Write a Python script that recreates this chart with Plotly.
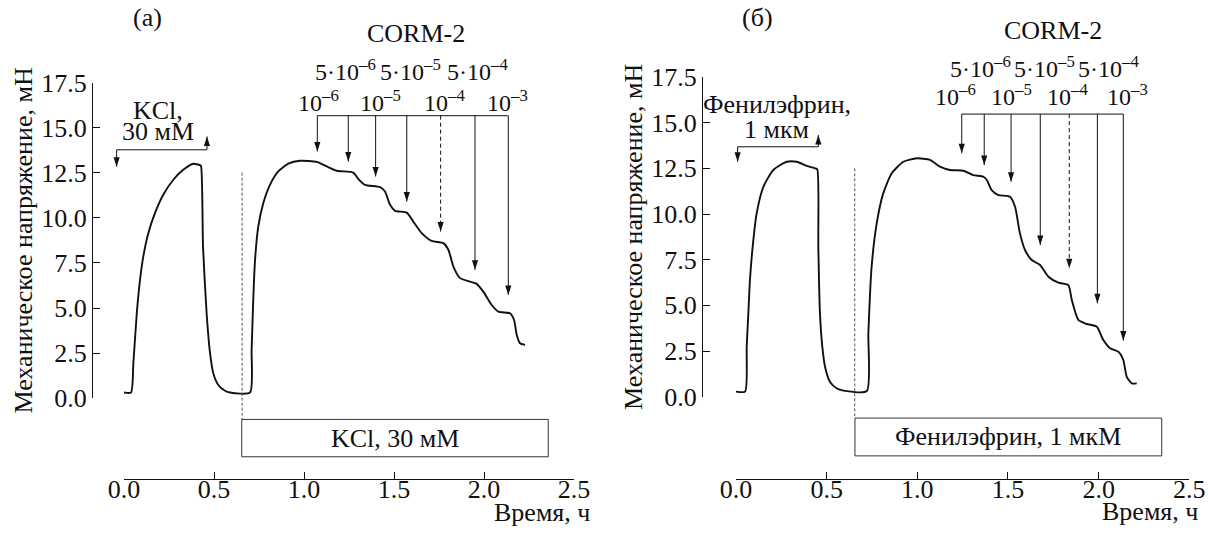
import plotly.graph_objects as go

W, H = 1208, 541
FONT = "Liberation Serif, Times New Roman, Times, serif"
BLACK = "#111111"

# ---------------- data ----------------
# panel (а): contraction to KCl 30 mM, then CORM-2 cumulative additions
t_kcl = [0.000, 0.039, 0.052, 0.071, 0.089, 0.107, 0.135, 0.172, 0.218, 0.274, 0.329, 0.385,
         0.422, 0.428, 0.439, 0.459, 0.478, 0.496, 0.524, 0.561, 0.589, 0.700, 0.709, 0.718,
         0.728, 0.746, 0.774, 0.811, 0.857, 0.913, 0.978, 1.071, 1.126, 1.182, 1.274, 1.302,
         1.339, 1.422, 1.450, 1.478, 1.506, 1.571, 1.607, 1.654, 1.709, 1.774, 1.802, 1.830,
         1.867, 1.922, 1.959, 1.996, 2.043, 2.080, 2.144, 2.167, 2.182, 2.200, 2.228]
f_kcl = [0.32, 0.32, 1.94, 4.71, 6.56, 7.85, 9.15, 10.26, 11.28, 12.11, 12.66, 13.00,
         12.92, 12.87, 8.41, 4.71, 2.50, 1.39, 0.74, 0.42, 0.32, 0.32, 2.68, 5.45,
         7.67, 9.52, 10.82, 11.83, 12.57, 13.00, 13.16, 13.10, 12.85, 12.61, 12.51, 12.15,
         11.83, 11.70, 11.46, 10.72, 10.39, 10.29, 9.79, 9.15, 8.72, 8.60, 8.23, 7.30,
         6.66, 6.47, 6.34, 5.91, 5.17, 4.80, 4.71, 4.34, 3.51, 3.05, 2.96]

# panel (б): contraction to phenylephrine 1 µM, then CORM-2 cumulative additions
t_phe = [0.000, 0.050, 0.059, 0.068, 0.077, 0.092, 0.114, 0.151, 0.206, 0.280, 0.335, 0.390,
         0.436, 0.448, 0.454, 0.463, 0.476, 0.491, 0.518, 0.555, 0.592, 0.721, 0.730, 0.748,
         0.776, 0.812, 0.859, 0.923, 0.997, 1.070, 1.125, 1.180, 1.254, 1.309, 1.364, 1.383,
         1.410, 1.447, 1.511, 1.539, 1.566, 1.594, 1.631, 1.677, 1.723, 1.778, 1.833, 1.852,
         1.888, 1.934, 1.990, 2.026, 2.063, 2.109, 2.136, 2.155, 2.183, 2.210]
f_phe = [0.28, 0.28, 2.74, 4.56, 6.39, 8.21, 10.04, 11.49, 12.41, 12.86, 12.86, 12.63,
         12.50, 12.45, 8.21, 4.56, 2.74, 1.64, 0.82, 0.46, 0.33, 0.31, 3.47, 7.12,
         9.49, 11.13, 12.23, 12.86, 13.05, 12.96, 12.59, 12.41, 12.37, 12.13, 12.04, 11.86,
         11.31, 11.04, 10.95, 10.40, 8.94, 8.03, 7.48, 7.21, 6.57, 6.24, 6.11, 5.29,
         4.20, 3.98, 3.83, 3.10, 2.65, 2.46, 2.01, 1.09, 0.73, 0.73]

x_ticks = [0.0, 0.5, 1.0, 1.5, 2.0, 2.5]
y_ticks = [0.0, 2.5, 5.0, 7.5, 10.0, 12.5, 15.0, 17.5]

corm_low_labels = ["10<sup>\u20136</sup>", "10<sup>\u20135</sup>", "10<sup>\u20134</sup>", "10<sup>\u20133</sup>"]
corm_high_labels = ["5\u00b710<sup>\u20136</sup>", "5\u00b710<sup>\u20135</sup>", "5\u00b710<sup>\u20134</sup>"]

# CORM-2 addition times (h) and the force level each arrow points to (mN)
corm_t_a = [1.074, 1.246, 1.398, 1.571, 1.759, 1.950, 2.135]
corm_tip_a = [13.68, 13.12, 12.29, 10.90, 9.24, 7.12, 5.73]
corm_t_b = [1.245, 1.369, 1.517, 1.678, 1.838, 1.993, 2.136]
corm_tip_b = [13.32, 12.68, 11.77, 8.30, 7.03, 5.11, 3.07]
dashed_index = 4

# agonist application / washout marks
agonist_a = dict(t_on=-0.041, t_off=0.461, level=13.77, tip_on=12.83, tip_off=14.51)
agonist_b = dict(t_on=0.009, t_off=0.454, level=13.68, tip_on=12.86, tip_off=14.32)
second_on_a, second_on_b = 0.656, 0.655
bar_a = dict(t0=0.654, t1=2.357, text="KCl, 30 \u043c\u041c")
bar_b = dict(t0=0.656, t1=2.348, text="\u0424\u0435\u043d\u0438\u043b\u044d\u0444\u0440\u0438\u043d, 1 \u043c\u043a\u041c")

Y_TITLE = ("\u041c\u0435\u0445\u0430\u043d\u0438\u0447\u0435\u0441\u043a\u043e\u0435 "
           "\u043d\u0430\u043f\u0440\u044f\u0436\u0435\u043d\u0438\u0435, \u043c\u041d")
X_TITLE = "\u0412\u0440\u0435\u043c\u044f, \u0447"

# ---------------- layout geometry (pixels of the 1208x541 page) ----------------
panels = [
    dict(xa="x", ya="y", xw="x3", yw="y3",
         xdom=(124 / W, 574 / W), ydom=(1 - 398.3 / H, 1 - 82.5 / H),
         ypos=92 / W, xpos=1 - 479 / H, wide_x=(0.0, 0.5),
         t=t_kcl, f=f_kcl, ct=corm_t_a, ctip=corm_tip_a, cbr=15.66,
         ag=agonist_a, ag_text=("KCl,", "30 \u043c\u041c"), ag_tx=0.189, ag_ty=(15.93, 14.77),
         von=second_on_a, bar=bar_a, letter="(\u0430)", letter_xy=(0.128, 21.1),
         low_x=[1.078, 1.426, 1.778, 2.129], high_x=[1.233, 1.594, 1.964],
         rows_y=(16.45, 18.2, 20.2), corm_x=1.62, title_x=2.6, title_y=-6.32),
    dict(xa="x2", ya="y2", xw="x4", yw="y4",
         xdom=(736 / W, 1189.3 / W), ydom=(1 - 396.7 / H, 1 - 77.0 / H),
         ypos=702 / W, xpos=1 - 479 / H, wide_x=(0.5, 1.0),
         t=t_phe, f=f_phe, ct=corm_t_b, ctip=corm_tip_b, cbr=15.47,
         ag=agonist_b, ag_text=("\u0424\u0435\u043d\u0438\u043b\u044d\u0444\u0440\u0438\u043d,", "1 \u043c\u043a\u043c"),
         ag_tx=0.226, ag_ty=(15.97, 14.60),
         von=second_on_b, bar=bar_b, letter="(\u0431)", letter_xy=(0.116, 20.73),
         low_x=[1.213, 1.517, 1.826, 2.157], high_x=[1.350, 1.703, 2.056],
         rows_y=(16.51, 18.05, 20.03), corm_x=1.75, title_x=2.559, title_y=-6.28),
]


def wide_range(dom_vis, rng_vis, dom_wide):
    s = (rng_vis[1] - rng_vis[0]) / (dom_vis[1] - dom_vis[0])
    return [rng_vis[0] + (dom_wide[0] - dom_vis[0]) * s,
            rng_vis[0] + (dom_wide[1] - dom_vis[0]) * s]


fig = go.Figure()
layout = dict(template="none", width=W, height=H, margin=dict(l=0, r=0, t=0, b=0, pad=0),
              autosize=False, paper_bgcolor="white", plot_bgcolor="rgba(0,0,0,0)",
              showlegend=False, font=dict(family=FONT, size=26, color=BLACK))
shapes, annotations = [], []
tick_font = dict(family=FONT, size=26, color=BLACK)
txt_font = dict(family=FONT, size=26, color=BLACK)
conc_font = dict(family=FONT, size=24, color=BLACK)
X_RANGE, Y_RANGE = [0, 2.5], [0, 17.5]
ARROW = dict(symbol="arrow", size=10, color=BLACK, line=dict(width=0))

for i, p in enumerate(panels):
    xn = p["xa"].replace("x", "xaxis")
    yn = p["ya"].replace("y", "yaxis")
    xwn = p["xw"].replace("x", "xaxis")
    ywn = p["yw"].replace("y", "yaxis")
    layout[xn] = dict(domain=list(p["xdom"]), anchor="free", position=p["xpos"], range=X_RANGE,
                      tickvals=x_ticks, ticktext=[f"{v:.1f}" for v in x_ticks],
                      ticks="inside", ticklen=7, tickwidth=1, tickcolor=BLACK,
                      showline=True, linecolor=BLACK, linewidth=1, showgrid=False,
                      zeroline=False, tickfont=tick_font, fixedrange=True, automargin=False,
                      ticklabelstandoff=-13)
    layout[yn] = dict(domain=list(p["ydom"]), anchor="free", position=p["ypos"], range=Y_RANGE,
                      tickvals=y_ticks, ticktext=[f"{v:.1f}" for v in y_ticks],
                      ticks="inside", ticklen=7, tickwidth=1, tickcolor=BLACK,
                      showline=True, linecolor=BLACK, linewidth=1, showgrid=False,
                      zeroline=False, tickfont=tick_font, fixedrange=True, automargin=False,
                      title=dict(text=Y_TITLE, font=txt_font, standoff=0))
    layout[xwn] = dict(domain=list(p["wide_x"]), anchor=p["yw"], visible=False, fixedrange=True,
                       automargin=False, range=wide_range(p["xdom"], X_RANGE, p["wide_x"]))
    layout[ywn] = dict(domain=[0, 1], anchor=p["xw"], visible=False, fixedrange=True,
                       automargin=False, range=wide_range(p["ydom"], Y_RANGE, (0, 1)))

    # force trace
    fig.add_trace(go.Scatter(x=p["t"], y=p["f"], xaxis=p["xa"], yaxis=p["ya"], mode="lines",
                             line=dict(color=BLACK, width=1.9, shape="spline", smoothing=0.6),
                             hoverinfo="skip"))

    xw, yw = p["xw"], p["yw"]
    # CORM-2 bracket and shafts
    bx, by = [p["ct"][0], p["ct"][-1], None], [p["cbr"], p["cbr"], None]
    dx, dy = [], []
    for k, (tt, tip) in enumerate(zip(p["ct"], p["ctip"])):
        if k == dashed_index:
            dx += [tt, tt, None]
            dy += [p["cbr"], tip, None]
        else:
            bx += [tt, tt, None]
            by += [p["cbr"], tip, None]
    fig.add_trace(go.Scatter(x=bx, y=by, xaxis=xw, yaxis=yw, mode="lines",
                             line=dict(color=BLACK, width=1), hoverinfo="skip"))
    fig.add_trace(go.Scatter(x=dx, y=dy, xaxis=xw, yaxis=yw, mode="lines",
                             line=dict(color=BLACK, width=1, dash="4px,3px"), hoverinfo="skip"))
    # arrow heads pointing down at each addition
    fig.add_trace(go.Scatter(x=p["ct"], y=p["ctip"], xaxis=xw, yaxis=yw, mode="markers",
                             marker=dict(**ARROW, angle=180), hoverinfo="skip"))

    # agonist on/off bracket
    ag = p["ag"]
    fig.add_trace(go.Scatter(x=[ag["t_on"], ag["t_on"], ag["t_off"], ag["t_off"]],
                             y=[ag["tip_on"], ag["level"], ag["level"], ag["tip_off"]],
                             xaxis=xw, yaxis=yw, mode="lines",
                             line=dict(color=BLACK, width=1), hoverinfo="skip"))
    fig.add_trace(go.Scatter(x=[ag["t_on"], ag["t_off"]], y=[ag["tip_on"], ag["tip_off"]],
                             xaxis=xw, yaxis=yw, mode="markers",
                             marker=dict(**ARROW, angle=[180, 0]), hoverinfo="skip"))
    for txt, yy in zip(p["ag_text"], p["ag_ty"]):
        annotations.append(dict(xref=xw, yref=yw, x=p["ag_tx"], y=yy, text=txt, showarrow=False,
                                font=txt_font, xanchor="center", yanchor="middle"))

    # second application: dotted marker and bar
    bar = p["bar"]
    fig.add_trace(go.Scatter(x=[p["von"], p["von"]], y=[12.5, -1.17], xaxis=xw, yaxis=yw,
                             mode="lines", line=dict(color="#555555", width=1, dash="3px,2px"),
                             hoverinfo="skip"))
    shapes.append(dict(type="rect", xref=xw, yref=yw, x0=bar["t0"], x1=bar["t1"], y0=-3.24, y1=-1.17,
                       line=dict(color="#333333", width=1), fillcolor="rgba(0,0,0,0)"))
    annotations.append(dict(xref=xw, yref=yw, x=(bar["t0"] + bar["t1"]) / 2, y=-2.2, text=bar["text"],
                            showarrow=False, font=txt_font, xanchor="center", yanchor="middle"))

    # CORM-2 labels
    for lx, lt in zip(p["low_x"], corm_low_labels):
        annotations.append(dict(xref=xw, yref=yw, x=lx, y=p["rows_y"][0], text=lt, showarrow=False,
                                font=conc_font, xanchor="center", yanchor="middle"))
    for lx, lt in zip(p["high_x"], corm_high_labels):
        annotations.append(dict(xref=xw, yref=yw, x=lx, y=p["rows_y"][1], text=lt, showarrow=False,
                                font=conc_font, xanchor="center", yanchor="middle"))
    annotations.append(dict(xref=xw, yref=yw, x=p["corm_x"], y=p["rows_y"][2], text="CORM-2",
                            showarrow=False, font=txt_font, xanchor="center", yanchor="middle"))
    annotations.append(dict(xref=xw, yref=yw, x=p["letter_xy"][0], y=p["letter_xy"][1], text=p["letter"],
                            showarrow=False, font=txt_font, xanchor="center", yanchor="middle"))
    annotations.append(dict(xref=xw, yref=yw, x=p["title_x"], y=p["title_y"], text=X_TITLE,
                            showarrow=False, font=txt_font, xanchor="right", yanchor="middle"))

layout["shapes"] = shapes
layout["annotations"] = annotations
fig.update_layout(**layout)
fig.write_html("out.html", config={"displayModeBar": False},
               post_script="document.body.style.margin='0px';")
